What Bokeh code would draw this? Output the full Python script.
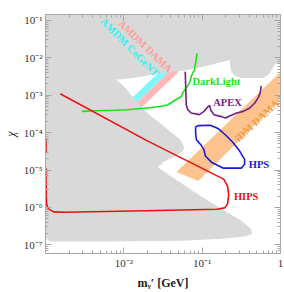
from bokeh.plotting import figure
from bokeh.models import Range1d, LogAxis, FixedTicker, CustomJSTickFormatter
from bokeh.core.properties import value
from bokeh.embed import file_html
from bokeh.resources import INLINE

# ---------------- data ----------------
x_major = [1e-2, 1e-1, 1.0]
x_minor = [2e-3, 3e-3, 4e-3, 5e-3, 6e-3, 7e-3, 8e-3, 9e-3,
           2e-2, 3e-2, 4e-2, 5e-2, 6e-2, 7e-2, 8e-2, 9e-2,
           2e-1, 3e-1, 4e-1, 5e-1, 6e-1, 7e-1, 8e-1, 9e-1]
y_major = [1e-7, 1e-6, 1e-5, 1e-4, 1e-3, 1e-2, 1e-1]
y_minor = [k * d for d in [1e-8, 1e-7, 1e-6, 1e-5, 1e-4, 1e-3, 1e-2, 1e-1]
           for k in [2, 3, 4, 5, 6, 7, 8, 9]]

# excluded region (grey)
excl_m = [9e-4, 1.1, 1.1, 0.866, 0.794, 0.708, 0.596, 0.316, 0.259, 0.231, 0.224,
          0.154, 0.1, 0.0596, 0.0316, 0.0133, 7.9e-3, 9.4e-3, 0.0109, 0.0141, 0.0178,
          0.0237, 0.0316, 0.0422, 0.0531, 0.0596, 0.0546, 0.0422, 0.0316, 0.0274,
          0.0365, 0.0562, 0.1, 0.178, 0.316, 0.422, 0.434, 0.365, 0.178, 0.0562,
          5.6e-3, 1.15e-3, 1.03e-3, 9e-4]
excl_chi = [0.3, 0.3, 6.5e-3, 7.0e-3, 5.3e-3, 3.5e-3, 2.9e-3, 2.9e-3, 3.3e-3, 4.7e-3, 8.7e-3,
            7.2e-3, 5.7e-3, 4.6e-3, 3.9e-3, 2.9e-3, 2.6e-3, 2.0e-3, 1.39e-3, 7.6e-4, 4.1e-4,
            2.5e-4, 1.54e-4, 9.5e-5, 6.2e-5, 4.0e-5, 3.0e-5, 2.2e-5, 1.6e-5, 1.19e-5,
            7.7e-6, 4.2e-6, 1.9e-6, 9.1e-7, 4.4e-7, 2.7e-7, 2.0e-7, 1.68e-7, 1.46e-7, 1.29e-7,
            1.22e-7, 1.22e-7, 1.46e-7, 1.46e-7]

# AMDM bands
cyan_m = [0.005, 0.05, 0.05, 0.005]
cyan_chi = [7.4e-5, 7.4e-3, 1.31e-2, 1.31e-4]
pink_m = [0.005, 0.05, 0.05, 0.005]
pink_chi = [4.15e-5, 4.15e-3, 7.4e-3, 7.4e-5]

# iDM DAMA band
idm_m = [0.0469, 1.06, 1.06, 0.0891]
idm_chi = [8.9e-6, 4.69e-3, 8.5e-4, 5.05e-6]

# HIPS
hips_m = [1.54e-3, 0.0194, 0.188, 0.211, 0.218, 0.211, 0.194, 0.154, 0.0188, 1.78e-3,
          1.26e-3, 1.09e-3, 1.03e-3, 1.02e-3, 1.015e-3, 9.7e-4, 9.7e-4, 1.015e-3, 1.015e-3, 9.7e-4]
hips_chi = [1.09e-3, 6.2e-5, 5.7e-6, 3.7e-6, 2.15e-6, 1.24e-6, 9.7e-7, 8.9e-7, 8.1e-7, 7.4e-7,
            7.6e-7, 9.1e-7, 1.24e-6, 2.28e-6, 1.05e-5, 1.26e-5, 2.47e-5, 2.97e-5, 6.6e-5, 7.5e-5]

# DarkLight
dl_m = [2.92e-3, 4.22e-3, 7.5e-3, 0.011, 0.0194, 0.0288, 0.0368, 0.0422, 0.0542, 0.0562,
        0.0688, 0.0729, 0.0794, 0.083, 0.0859]
dl_chi = [3.70e-4, 3.85e-4, 3.97e-4, 4.10e-4, 4.55e-4, 5.0e-4, 5.56e-4, 6.8e-4, 9.2e-4, 1.14e-3,
          2.09e-3, 3.27e-3, 4.72e-3, 7.7e-3, 1.31e-2]

# APEX
apex_m = [0.0608, 0.0626, 0.0655, 0.0722, 0.0917, 0.106, 0.119, 0.125, 0.128, 0.141, 0.171,
          0.198, 0.228, 0.276, 0.335, 0.406, 0.469, 0.516, 0.551, 0.567]
apex_chi = [4.26e-3, 5.56e-4, 4.10e-4, 3.35e-4, 3.02e-4, 3.70e-4, 5.01e-4, 5.23e-4, 4.10e-4,
            3.02e-4, 2.72e-4, 2.47e-4, 2.84e-4, 3.35e-4, 3.70e-4, 4.55e-4, 6.17e-4, 8.37e-4,
            1.14e-3, 1.77e-3]

# HPS
hps_m = [0.0825, 0.091, 0.127, 0.162, 0.196, 0.249, 0.301, 0.348, 0.348, 0.316, 0.187,
         0.133, 0.11, 0.105, 0.0953, 0.0841, 0.0825, 0.0825]
hps_chi = [1.43e-4, 1.54e-4, 1.57e-4, 1.26e-4, 8.9e-5, 5.36e-5, 3.21e-5, 1.93e-5, 1.43e-5,
           1.12e-5, 1.12e-5, 1.58e-5, 2.37e-5, 3.56e-5, 4.83e-5, 6.56e-5, 9.9e-5, 1.43e-4]

# text labels
lbl_text = ["AMDM DAMA", "AMDM CoGeNT", "iDM DAMA", "DarkLight", "APEX", "HPS", "HIPS"]
lbl_m = [0.0188, 0.0119, 0.501, 0.152, 0.211, 0.531, 0.365]
lbl_chi = [0.0204, 0.0192, 2.09e-4, 2.27e-3, 6.3e-4, 1.43e-5, 1.9e-6]
lbl_angle = [-0.76, -0.79, 0.75, 0.0, 0.0, 0.0, 0.0]
lbl_color = ["#ff9d9d", "#33f2f2", "#f39a3c", "#1ee01e", "#7b1b86", "#1a1ad6", "#ee1111"]

FONT = "Liberation Serif"
FRAME = "#a8a8a8"

p = figure(width=284, height=292, x_axis_type="log", y_axis_type="log",
           x_range=Range1d(1e-3, 1.0001), y_range=Range1d(5.85e-8, 0.144),
           output_backend="svg", toolbar_location=None,
           min_border_left=40, min_border_right=4, min_border_top=14, min_border_bottom=37)
p.grid.visible = False
p.outline_line_color = FRAME
p.background_fill_color = "white"
p.border_fill_color = "white"

fmt = CustomJSTickFormatter(code="""
const sup = {'-':'\u207b','0':'\u2070','1':'\u00b9','2':'\u00b2','3':'\u00b3','4':'\u2074',
             '5':'\u2075','6':'\u2076','7':'\u2077','8':'\u2078','9':'\u2079'};
const e = Math.round(Math.log10(tick));
if (e == 0) { return '1'; }
return '10' + String(e).split('').map(c => sup[c]).join('');
""")
blank = CustomJSTickFormatter(code="return '';")

def style(ax, major, minor, show):
    ax.ticker = FixedTicker(ticks=major, minor_ticks=minor)
    ax.formatter = fmt if show else blank
    ax.major_tick_in = 6
    ax.major_tick_out = 0
    ax.minor_tick_in = 3
    ax.minor_tick_out = 0
    ax.axis_line_color = FRAME
    ax.major_tick_line_color = FRAME
    ax.minor_tick_line_color = FRAME
    ax.major_label_text_font = FONT
    ax.major_label_text_font_size = "11px" if show else "0px"
    ax.major_label_text_color = "#333333"
    ax.major_label_standoff = 3 if show else 0
    ax.axis_label_text_font = FONT
    ax.axis_label_text_color = "#222222"

style(p.xaxis[0], x_major, x_minor, True)
style(p.yaxis[0], y_major, y_minor, True)
p.xaxis[0].axis_label = "m\u1d67\u2032 [GeV]"
p.xaxis[0].axis_label_text_font_style = "bold"
p.xaxis[0].axis_label_text_font_size = "12px"
p.xaxis[0].axis_label_standoff = 4
p.yaxis[0].axis_label = "\u03c7"
p.yaxis[0].axis_label_text_font_style = "italic"
p.yaxis[0].axis_label_text_font_size = "12px"
p.yaxis[0].axis_label_standoff = 3

top = LogAxis()
right = LogAxis()
style(top, x_major, x_minor, False)
style(right, y_major, y_minor, False)
p.add_layout(top, "above")
p.add_layout(right, "right")

# bands under the excluded region
p.patch(cyan_m, cyan_chi, fill_color="#80f6f6", line_color=None)
p.patch(pink_m, pink_chi, fill_color="#ffb8b8", line_color=None)
# excluded region
p.patch(excl_m, excl_chi, fill_color="#d9d9d9", line_color=None)
# iDM band
p.patch(idm_m, idm_chi, fill_color="#fbb97a", fill_alpha=0.85, line_color=None)

p.line(dl_m, dl_chi, line_color="#1ee01e", line_width=1.6)
p.line(apex_m, apex_chi, line_color="#7b1b86", line_width=1.6)
p.line(hps_m, hps_chi, line_color="#1a1ad6", line_width=1.6)
p.line(hips_m, hips_chi, line_color="#ee1111", line_width=1.6)

for t, m, c, a, col in zip(lbl_text, lbl_m, lbl_chi, lbl_angle, lbl_color):
    p.text(x=[m], y=[c], text=[t], angle=a, text_font=value(FONT), text_font_style="bold",
           text_font_size="10.5px", text_color=col, text_align="center", text_baseline="middle")

open("out.html", "w").write(file_html(p, INLINE))
